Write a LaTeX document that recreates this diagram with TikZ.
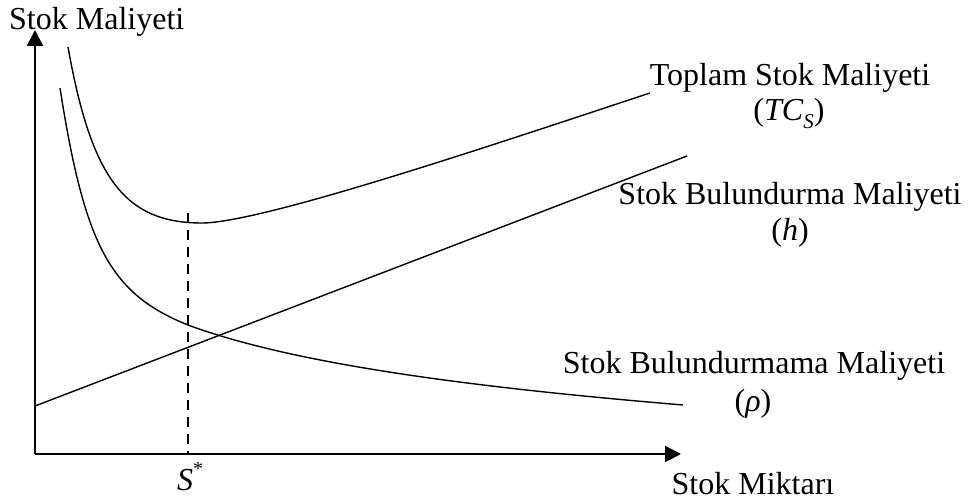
\documentclass[tikz,border=0pt]{standalone}
\usepackage{fontspec}
\setmainfont{Liberation Serif}
\usetikzlibrary{arrows.meta}
\tikzset{
  lbl/.style={inner sep=0pt, font=\fontsize{32}{37}\selectfont},
  axis/.style={line width=2pt, -{Triangle[length=16pt,width=16pt]}},
  curve/.style={line width=1.4pt},
  guide/.style={line width=1.4pt, dash pattern=on 10pt off 7pt}
}
\begin{document}
\begin{tikzpicture}[x=1pt,y=-1pt]
\useasboundingbox (0,0) rectangle (968,502);
% axes
\coordinate (O) at (35,454);
\coordinate (ytip) at (35,30);
\coordinate (xtip) at (681,454);
\draw[axis] (O) -- (ytip);
\draw[axis] (O) -- (xtip);
% dashed guide
\coordinate (smin) at (188,213);
\coordinate (sbase) at (188,454);
\draw[guide] (smin) -- (sbase);
% holding cost line (h)
\coordinate (h0) at (35,406);
\coordinate (h1) at (687,156);
\draw[curve] (h0) -- (h1);
% shortage cost curve (rho)
\coordinate (r0) at (60,88);
\coordinate (rm) at (188,325);
\coordinate (r1) at (683,405);
\draw[curve] (r0) .. controls (84.8,246.4) and (110.4,293.8) .. (rm)
  .. controls (298,365.7) and (483,388.2) .. (r1);
% total cost curve
\coordinate (t0) at (68,47);
\coordinate (tm) at (202,223);
\coordinate (t1) at (650,93);
\draw[curve] (t0) .. controls (91.5,179) and (125,223) .. (tm)
  .. controls (262,223) and (500,142.5) .. (t1);
% labels
\node[lbl, anchor=base west] (ylab) at (9,30) {Stok Maliyeti};
\node[lbl, anchor=base] (tcA) at (790,86) {Toplam Stok Maliyeti};
\node[lbl, anchor=base] (tcB) at (789,121) {(\textit{TC}\raisebox{-0.22em}{\fontsize{21}{21}\selectfont\textit{S}})};
\node[lbl, anchor=base] (hA) at (790,205) {Stok Bulundurma Maliyeti};
\node[lbl, anchor=base] (hB) at (790,241) {(\textit{h})};
\node[lbl, anchor=base] (rA) at (754,373) {Stok Bulundurmama Maliyeti};
\node[lbl, anchor=base] (rB) at (753,411) {(\textit{ρ})};
\node[lbl, anchor=base] (xlab) at (753,494) {Stok Miktarı};
\node[lbl, anchor=base] (sstar) at (190,490) {\textit{S}\raisebox{0.45em}{\fontsize{20}{20}\selectfont *}};
\end{tikzpicture}
\end{document}
